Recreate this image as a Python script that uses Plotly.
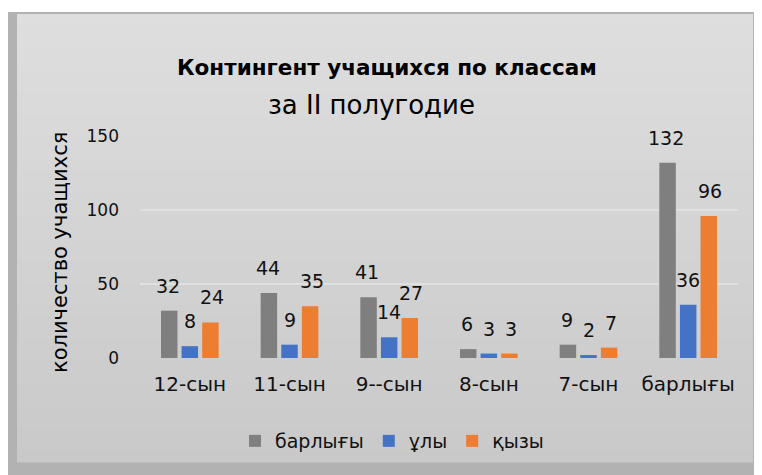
import plotly.graph_objects as go

categories = ["12-сын", "11-сын", "9--сын", "8-сын", "7-сын", "барлығы"]
total = [32, 44, 41, 6, 9, 132]
boys = [8, 9, 14, 3, 2, 36]
girls = [24, 35, 27, 3, 7, 96]
series_names = ["барлығы", "ұлы", "қызы"]
colors = ["#7f7f7f", "#4472c4", "#ed7d31"]

W, H = 762, 475
OFF = 8  # the page body adds an 8px margin around the figure
FONT = "DejaVu Sans"

# plot area in page pixels (from reference)
PX_L, PX_R, PX_T, PX_B = 140, 738, 136, 358
L, T = PX_L - OFF, PX_T - OFF
R, B = W - (PX_R - OFF), H - (PX_B - OFF)


def px_x(p):
    return (p - OFF - L) / (W - L - R)


def px_y(p):
    return (H - B - (p - OFF)) / (H - T - B)


fig = go.Figure()
for name, vals, col in zip(series_names, [total, boys, girls], colors):
    fig.add_trace(go.Bar(x=categories, y=vals, name=name, marker_color=col,
                         marker_line_width=0))

# frame: darker shadow + soft grey gradient panel
shapes = [dict(type="rect", xref="paper", yref="paper", layer="below",
               x0=px_x(8), x1=px_x(770), y0=px_y(12), y1=px_y(480),
               fillcolor="#b2b2b2", line_width=0)]
n = 40
top, bot = (222, 222, 222), (201, 201, 201)
for i in range(n):
    f = i / (n - 1)
    c = tuple(round(top[k] + (bot[k] - top[k]) * f) for k in range(3))
    y0 = 14 + (462 - 14) * i / n
    y1 = 14 + (462 - 14) * (i + 1) / n
    shapes.append(dict(type="rect", xref="paper", yref="paper", layer="below",
                       x0=px_x(17), x1=px_x(753), y0=px_y(y0), y1=px_y(y1 + 0.5),
                       fillcolor="rgb(%d,%d,%d)" % c, line_width=0))

annotations = [
    dict(text="<b>Контингент учащихся по классам</b>", xref="paper", yref="paper",
         x=px_x(387), y=px_y(53), xanchor="center", showarrow=False,
         font=dict(size=21.5, color="#000")),
    dict(text="за II полугодие", xref="paper", yref="paper",
         x=px_x(371), y=px_y(88), xanchor="center", showarrow=False,
         font=dict(size=26, color="#000")),
    dict(text="количество учащихся", xref="paper", yref="paper",
         x=px_x(60), y=px_y(253), xanchor="center", yanchor="middle",
         showarrow=False, textangle=-90, font=dict(size=21, color="#000")),
]

# data labels above the bars
offsets = [-22, 0, 22]
for vals, dx in zip([total, boys, girls], offsets):
    for cat, v in zip(categories, vals):
        annotations.append(dict(x=cat, y=v, text=str(v), showarrow=False,
                                xshift=dx, yshift=25, yanchor="middle",
                                font=dict(size=19, color="#111")))

fig.update_layout(
    width=W, height=H,
    margin=dict(l=L, r=R, t=T, b=B),
    paper_bgcolor="white",
    plot_bgcolor="rgba(0,0,0,0)",
    font=dict(family=FONT, size=18, color="#111"),
    barmode="group",
    bargap=0.38,
    bargroupgap=0.2,
    shapes=shapes,
    annotations=annotations,
    showlegend=True,
    legend=dict(orientation="h", x=px_x(392), xanchor="center",
                y=px_y(441), yanchor="middle", font=dict(size=19, color="#111"),
                bgcolor="rgba(0,0,0,0)", itemwidth=30),
    xaxis=dict(showgrid=False, showline=False, ticks="", ticklabelstandoff=12,
               tickfont=dict(size=20)),
    yaxis=dict(range=[0, 150], dtick=50, showgrid=True, gridcolor="#e0e0e0",
               gridwidth=1.5, zeroline=False, showline=False, ticks="",
               ticklabelstandoff=20, tickfont=dict(size=17)),
)

fig.write_html("out.html")
